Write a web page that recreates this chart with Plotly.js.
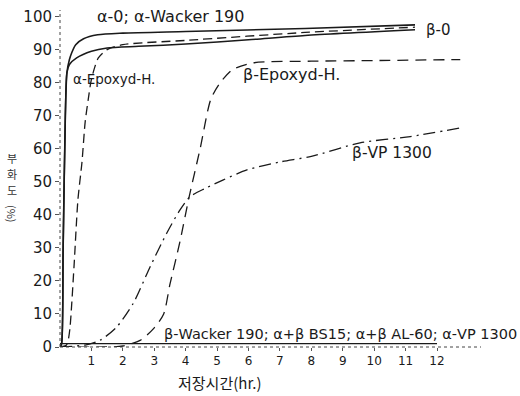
<!DOCTYPE html>
<html>
<head>
<meta charset="utf-8">
<script src="https://cdn.plot.ly/plotly-3.0.1.min.js"></script>
<style>html,body{margin:0;padding:0;background:#fff;}#chart{width:520px;height:396px;}</style>
</head>
<body>
<div id="chart"></div>
<script>
// α-0 ; α-Wacker 190 (solid, upper)
const alpha0X = [0, 0.05, 0.1, 0.17, 0.22, 0.3, 0.37, 0.5, 0.75, 1.2, 2, 4, 7.8, 11.3];
const alpha0Y = [0, 1, 30, 70, 83, 87, 89, 91.5, 93.3, 94.5, 95, 95.5, 96.4, 97.5];
// α-Epoxyd-H. (solid, lower)
const alphaEpoxX = [0, 0.05, 0.1, 0.17, 0.22, 0.3, 0.53, 1, 1.5, 2.5, 4, 6, 7.8, 11.3];
const alphaEpoxY = [0, 1, 30, 70, 83, 85.5, 87.5, 89.5, 90.5, 91, 91.7, 93, 94.3, 96];
// β-0 (dashed)
const beta0X = [0, 0.2, 0.26, 0.32, 0.45, 0.57, 0.7, 0.8, 0.9, 1.0, 1.22, 1.5, 2, 4, 7.8, 11.3];
const beta0Y = [0, 0.5, 2, 6, 25, 44.5, 56, 68, 75, 81, 87.5, 90, 91.5, 92.8, 95.2, 96.8];
// β-Epoxyd-H. (long dashed)
const betaEpoxX = [0, 1.5, 2, 2.55, 3.0, 3.3, 3.5, 3.82, 4.1, 4.46, 4.8, 5.1, 5.5, 6.15, 8, 10, 12.74];
const betaEpoxY = [0, 0, 0.3, 2, 5.8, 10, 19, 32, 45, 60, 75, 80, 84, 86, 86.5, 86.7, 87];
// β-VP 1300 (dash-dot)
const betaVPX = [0, 0.8, 1.27, 1.8, 2.33, 2.87, 3.4, 3.82, 4.14, 4.62, 5.2, 5.95, 7.0, 8.0, 9.55, 11.15, 12.74];
const betaVPY = [0, 0.6, 2, 6, 13.2, 24.3, 34.5, 41.5, 45.5, 48, 50.6, 53.6, 56, 57.7, 61.8, 63.7, 66.3];
// β-Wacker 190; α+β BS15; α+β AL-60; α-VP 1300 (flat)
const flatX = [0, 12];
const flatY = [1, 1];

const xTicks = [1, 2, 3, 4, 5, 6, 7, 8, 9, 10, 11, 12];
const yTicks = [0, 10, 20, 30, 40, 50, 60, 70, 80, 90, 100];
const yTitleChars = ['부', '화', '도'];

const ink = '#1a1a1a';
const mk = (x, y, dash, w) => ({
  x, y, type: 'scatter', mode: 'lines',
  line: {color: ink, width: w || 1.4, dash: dash, shape: 'spline', smoothing: 0.7},
  hoverinfo: 'skip', showlegend: false
});

const data = [
  mk(alpha0X, alpha0Y, 'solid', 1.6),
  mk(alphaEpoxX, alphaEpoxY, 'solid', 1.5),
  mk(beta0X, beta0Y, '9px,5px', 1.3),
  mk(betaEpoxX, betaEpoxY, '11px,7px', 1.3),
  mk(betaVPX, betaVPY, '12px,5px,2px,5px', 1.3),
  mk(flatX, flatY, 'solid', 1.3)
];

const lblFont = (s) => ({family: 'DejaVu Sans, sans-serif', size: s, color: ink});
const ann = (text, x, y, size) => ({text, x, y, xref: 'x', yref: 'y', showarrow: false,
  xanchor: 'center', yanchor: 'middle', font: lblFont(size)});

// vertical y title, one character per annotation (pixel rows 158,174,190 -> paper)
const plotH = 337, plotBottom = 347;
const toPaperY = (py) => (plotBottom - py) / plotH;
const yTitleAnns = yTitleChars.map((c, i) => ({
  text: c, x: -0.114, y: toPaperY(158 + i * 16), xref: 'paper', yref: 'paper', showarrow: false,
  xanchor: 'center', yanchor: 'middle',
  font: {family: 'Noto Sans CJK KR, sans-serif', size: 11, color: '#333'}
}));
yTitleAnns.push({
  text: '(%)', x: -0.114, y: toPaperY(214), xref: 'paper', yref: 'paper', showarrow: false,
  xanchor: 'center', yanchor: 'middle', textangle: 90,
  font: {family: 'Noto Sans CJK KR, sans-serif', size: 11, color: '#333'}
});

const layout = {
  width: 520, height: 396,
  margin: {l: 60, r: 39, t: 10, b: 49},
  paper_bgcolor: '#fff', plot_bgcolor: '#fff',
  showlegend: false,
  xaxis: {
    range: [0, 13.4], tickvals: xTicks, ticktext: xTicks.map(String),
    showgrid: false, zeroline: false, showline: false,
    ticks: 'outside', ticklen: 3, tickcolor: '#555',
    tickfont: {family: 'DejaVu Sans, sans-serif', size: 12, color: ink}
  },
  yaxis: {
    range: [0, 102], tickvals: yTicks, ticktext: yTicks.map(String),
    showgrid: false, zeroline: false, showline: false,
    ticks: 'outside', ticklen: 4, tickcolor: '#555',
    tickfont: {family: 'DejaVu Sans, sans-serif', size: 15, color: ink}
  },
  shapes: [
    {type: 'line', xref: 'paper', yref: 'paper', x0: 0, x1: 1, y0: 0, y1: 0,
     line: {color: '#444', width: 1, dash: 'dot'}},
    {type: 'line', xref: 'paper', yref: 'paper', x0: 0, x1: 0, y0: 0, y1: 1,
     line: {color: '#444', width: 1, dash: 'dot'}}
  ],
  annotations: [
    ann('α-0; α-Wacker 190', 3.52, 100, 16),
    ann('α-Epoxyd-H.', 1.72, 81, 13.5),
    ann('β-Epoxyd-H.', 7.37, 82.4, 16),
    ann('β-0', 12.04, 96, 15),
    ann('β-VP 1300', 10.56, 58.8, 15.5),
    ann('β-Wacker 190; α+β BS15; α+β AL-60; α-VP 1300', 8.93, 3.8, 14.5),
    {text: '저장시간(hr.)', x: 0.38, y: -0.104, xref: 'paper', yref: 'paper', showarrow: false,
     xanchor: 'center', yanchor: 'middle',
     font: {family: 'Noto Sans CJK KR, sans-serif', size: 15, color: ink}}
  ].concat(yTitleAnns)
};

Plotly.newPlot('chart', data, layout, {staticPlot: true, displayModeBar: false});
</script>
</body>
</html>
